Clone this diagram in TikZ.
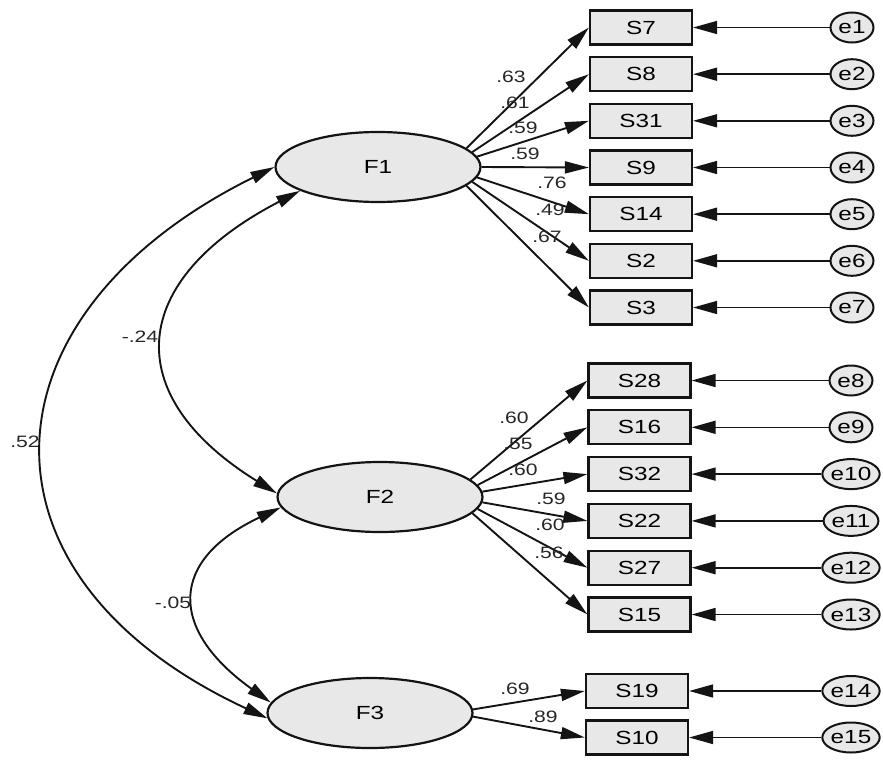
\documentclass[tikz,border=0pt]{standalone}
\usepackage{fontspec}
\setmainfont{Liberation Sans}[FakeStretch=1.28]
\usetikzlibrary{arrows.meta,shapes.geometric}
\definecolor{nodefill}{RGB}{232,232,232}
\definecolor{edge}{RGB}{20,20,20}
\begin{document}
\begin{tikzpicture}[x=1pt,y=-1pt,
  obs/.style={draw=edge, line width=2.2pt, fill=nodefill, rectangle, minimum width=102pt, minimum height=34pt, inner sep=0pt, font=\fontsize{19}{21}\selectfont},
  lat/.style={draw=edge, line width=2.2pt, fill=nodefill, ellipse, minimum width=205pt, minimum height=70pt, inner sep=0pt, font=\fontsize{19}{21}\selectfont},
  err/.style={draw=edge, line width=2pt, fill=nodefill, ellipse, minimum width=43pt, minimum height=30pt, inner sep=0pt, font=\fontsize{19}{21}\selectfont},
  load/.style={draw=edge, line width=1.9pt, -{Triangle[length=24pt,width=12pt]}},
  eload/.style={draw=edge, line width=1.6pt, -{Triangle[length=24pt,width=13pt]}},
  cov/.style={draw=edge, line width=1.9pt, {Triangle[length=24pt,width=12pt]}-{Triangle[length=24pt,width=12pt]}},
  lab/.style={font=\fontsize{16.5}{18}\selectfont, inner sep=0pt, text=black!85}
]
\useasboundingbox (0,0) rectangle (883,760);

% latent factors
\node[lat] (F1) at (378,167) {F1};
\node[lat] (F2) at (380,497) {F2};
\node[lat] (F3) at (370,713) {F3};

% observed group 1
\node[obs] (S7)  at (641,27.5)  {S7};
\node[obs] (S8)  at (641,74.2)  {S8};
\node[obs] (S31) at (641,120.8) {S31};
\node[obs] (S9)  at (641,167.5) {S9};
\node[obs] (S14) at (641,214.2) {S14};
\node[obs] (S2)  at (641,260.8) {S2};
\node[obs] (S3)  at (641,307.5) {S3};
% observed group 2
\node[obs] (S28) at (639.5,380.5) {S28};
\node[obs] (S16) at (639.5,427.3) {S16};
\node[obs] (S32) at (639.5,474.1) {S32};
\node[obs] (S22) at (639.5,520.9) {S22};
\node[obs] (S27) at (639.5,567.7) {S27};
\node[obs] (S15) at (639.5,614.5) {S15};
% observed group 3
\node[obs] (S19) at (637,691) {S19};
\node[obs] (S10) at (637,737.5) {S10};

% errors
\node[err] (e1)  at (852,27.5)  {e1};
\node[err] (e2)  at (852,74.2)  {e2};
\node[err] (e3)  at (852,120.8) {e3};
\node[err] (e4)  at (852,167.5) {e4};
\node[err] (e5)  at (852,214.2) {e5};
\node[err] (e6)  at (852,260.8) {e6};
\node[err] (e7)  at (852,307.5) {e7};
\node[err] (e8)  at (851,380.5) {e8};
\node[err] (e9)  at (851,427.3) {e9};
\node[err] (e10) at (851,474.1) {e10};
\node[err] (e11) at (851,520.9) {e11};
\node[err] (e12) at (851,567.7) {e12};
\node[err] (e13) at (851,614.5) {e13};
\node[err] (e14) at (851,691) {e14};
\node[err] (e15) at (851,737.5) {e15};

% error arrows
\foreach \e/\s in {e1/S7,e2/S8,e3/S31,e4/S9,e5/S14,e6/S2,e7/S3,e8/S28,e9/S16,e10/S32,e11/S22,e12/S27,e13/S15,e14/S19,e15/S10}
  \draw[eload] (\e) -- (\s);

% loadings F1
\draw[load] (F1.12)  -- (S7.west);
\draw[load] (F1.9)   -- (S8.west);
\draw[load] (F1.6)   -- (S31.west);
\draw[load] (F1.0)   -- (S9.west);
\draw[load] (F1.354) -- (S14.west);
\draw[load] (F1.351) -- (S2.west);
\draw[load] (F1.348) -- (S3.west);
% loadings F2
\draw[load] (F2.11)  -- (S28.west);
\draw[load] (F2.7)   -- (S16.west);
\draw[load] (F2.3)   -- (S32.west);
\draw[load] (F2.357) -- (S22.west);
\draw[load] (F2.353) -- (S27.west);
\draw[load] (F2.350) -- (S15.west);
% loadings F3
\draw[load] (F3.2)   -- (S19.west);
\draw[load] (F3.358) -- (S10.west);

% loading labels
\node[lab] (l1)  at (511,77)  {.63};
\node[lab] (l2)  at (515,103) {.61};
\node[lab] (l3)  at (523,128) {.59};
\node[lab] (l4)  at (525,154) {.59};
\node[lab] (l5)  at (552,183) {.76};
\node[lab] (l6)  at (550,210) {.49};
\node[lab] (l7)  at (547,237) {.67};
\node[lab] (l8)  at (514,418) {.60};
\node[lab] (l9)  at (518,444) {.55};
\node[lab] (l10) at (523,470) {.60};
\node[lab] (l11) at (551,499) {.59};
\node[lab] (l12) at (550,525) {.60};
\node[lab] (l13) at (549,553) {.56};
\node[lab] (l14) at (515,689) {.69};
\node[lab] (l15) at (543,717) {.89};

% covariances
\draw[cov] (F1.180) .. controls (-25,315) and (-37,577) .. (F3.183);
\draw[cov] (F1.197) .. controls (128,280) and (118,395) .. (F2.178);
\draw[cov] (F2.186) .. controls (169,560) and (168,629) .. (F3.174);

\node[lab] (c1) at (25,442)  {.52};
\node[lab] (c2) at (140,337) {-.24};
\node[lab] (c3) at (173,603) {-.05};
\end{tikzpicture}
\end{document}
